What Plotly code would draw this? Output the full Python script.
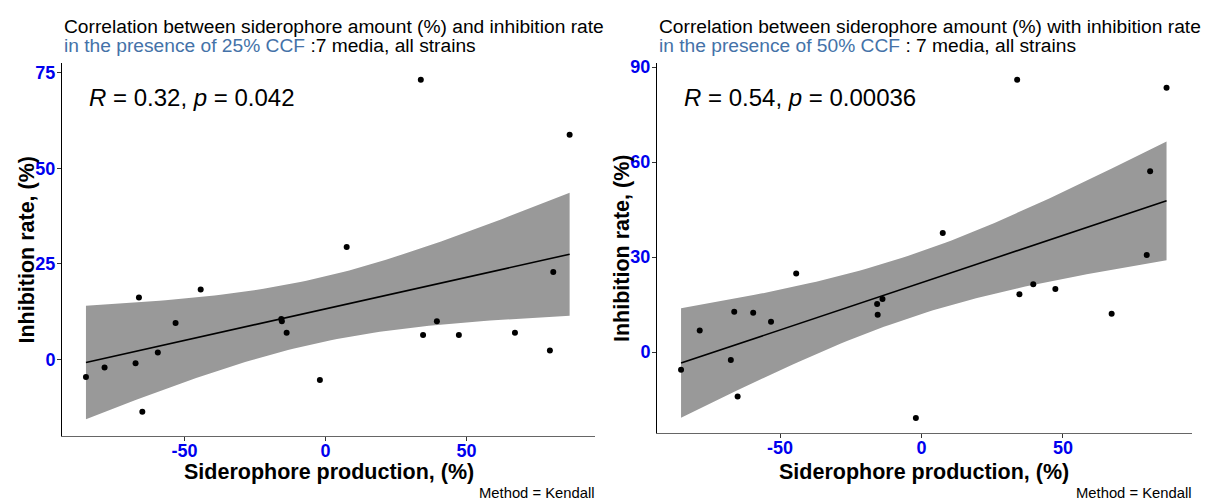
import numpy as np
import plotly.graph_objects as go

# ---- data ----
siderophore = [-85.0, -78.4, -67.4, -66.2, -65.0, -59.5, -53.2, -44.3, -15.7, -15.5,
               -13.8, -2.0, 7.5, 33.8, 34.6, 39.5, 47.3, 67.2, 79.6, 80.8, 86.6]
inhib_25 = [-4.6, -2.1, -1.0, 16.2, -13.7, 1.8, 9.5, 18.3, 10.6, 10.0,
            7.0, -5.4, 29.4, 73.2, 6.4, 10.0, 6.4, 7.0, 2.3, 22.9, 58.8]
inhib_50 = [-5.6, 6.8, -2.5, 12.7, -14.0, 12.4, 9.6, 24.8, 15.2, 11.8,
            16.8, -20.8, 37.6, 86.0, 18.3, 21.4, 19.9, 12.1, 30.7, 57.1, 83.5]

panels = [
    dict(y=inhib_25, r="0.32", p="0.042", pct="25%", sep=" :7 media, all strains",
         head="Correlation between siderophore amount (%) and inhibition rate",
         yticks=[0, 25, 50, 75], yrange=[-20.0, 77.5]),
    dict(y=inhib_50, r="0.54", p="0.00036", pct="50%", sep=" : 7 media, all strains",
         head="Correlation between siderophore amount (%) with inhibition rate",
         yticks=[0, 30, 60, 90], yrange=[-25.5, 91.2]),
]
xticks = [-50, 0, 50]
xticklabels = ["-50", "0", "50"]
T_CRIT = 2.093  # qt(0.975, 19)

W, H = 1205, 501
xdoms = [[62 / W, 595 / W], [657 / W, 1192 / W]]
ydoms = [[1 - 435 / H, 1 - 58 / H], [1 - 432 / H, 1 - 58 / H]]

fig = go.Figure()
FONT = "Liberation Sans, Arial, sans-serif"
BLUE_TICK = "#0000EE"
TITLE_BLUE = "#4472A8"

for i, p in enumerate(panels):
    xa = "x" if i == 0 else "x2"
    ya = "y" if i == 0 else "y2"
    x = np.array(siderophore)
    y = np.array(p["y"])
    n = len(x)
    b1, b0 = np.polyfit(x, y, 1)
    resid = y - (b0 + b1 * x)
    s = np.sqrt(np.sum(resid ** 2) / (n - 2))
    xs = np.linspace(x.min(), x.max(), 80)
    fit = b0 + b1 * xs
    se = s * np.sqrt(1 / n + (xs - x.mean()) ** 2 / np.sum((x - x.mean()) ** 2))
    lo = fit - T_CRIT * se
    hi = fit + T_CRIT * se

    fig.add_trace(go.Scatter(x=np.concatenate([xs, xs[::-1]]), y=np.concatenate([hi, lo[::-1]]),
                             fill="toself", fillcolor="#999999", line=dict(width=0),
                             mode="lines", hoverinfo="skip", showlegend=False, xaxis=xa, yaxis=ya))
    fig.add_trace(go.Scatter(x=xs, y=fit, mode="lines", line=dict(color="black", width=1.6),
                             showlegend=False, xaxis=xa, yaxis=ya))
    fig.add_trace(go.Scatter(x=x, y=y, mode="markers", marker=dict(color="black", size=6),
                             showlegend=False, xaxis=xa, yaxis=ya))

    axsuf = "" if i == 0 else "2"
    common = dict(showgrid=False, zeroline=False, showline=True, linewidth=1,
                  ticks="outside", ticklen=4, tickcolor="#333333",
                  tickfont=dict(family=FONT, size=18, color=BLUE_TICK, weight="bold"))
    fig.update_layout(**{
        "xaxis" + axsuf: dict(domain=xdoms[i], range=[-93.5, 95.6], tickvals=xticks,
                              ticktext=xticklabels, ticklabelstandoff=-5,
                              anchor=ya, linecolor="#666666", **common),
        "yaxis" + axsuf: dict(domain=ydoms[i], range=p["yrange"], tickvals=p["yticks"],
                              ticklabelstandoff=-2,
                              anchor=xa, linecolor="black", **common),
    })

    x0, x1 = xdoms[i]
    y0, y1 = ydoms[i]
    # R / p label
    fig.add_annotation(xref="paper", yref="paper", x=x0 + 25 / W, y=1 - 93 / H,
                       xanchor="left", yanchor="middle", showarrow=False,
                       text="<i>R</i> = " + p["r"] + ", <i>p</i> = " + p["p"],
                       font=dict(family=FONT, size=24, color="black"))
    # title (two lines)
    fig.add_annotation(xref="paper", yref="paper", x=x0 + 0 / W, y=1 - 21 / H,
                       xanchor="left", yanchor="middle", showarrow=False,
                       text=p["head"], font=dict(family=FONT, size=19.2, color="black"))
    fig.add_annotation(xref="paper", yref="paper", x=x0 + 0 / W, y=1 - 40 / H,
                       xanchor="left", yanchor="middle", showarrow=False,
                       text="<span style='color:" + TITLE_BLUE + "'>in the presence of "
                            + p["pct"] + " CCF</span>" + p["sep"],
                       font=dict(family=FONT, size=19.2, color="black"))
    # axis titles
    fig.add_annotation(xref="paper", yref="paper", x=(x0 + x1) / 2, y=1 - 472 / H,
                       xanchor="center", yanchor="middle", showarrow=False,
                       text="<b>Siderophore production, (%)</b>",
                       font=dict(family=FONT, size=21.5, color="black"))
    fig.add_annotation(xref="paper", yref="paper", x=x0 - 35 / W, y=(y0 + y1) / 2,
                       xanchor="center", yanchor="middle", showarrow=False, textangle=-90,
                       text="<b>Inhibition rate, (%)</b>",
                       font=dict(family=FONT, size=21.5, color="black"))
    fig.add_annotation(xref="paper", yref="paper", x=x1 + 2 / W, y=1 - 493 / H,
                       xanchor="right", yanchor="middle", showarrow=False,
                       text="Method = Kendall",
                       font=dict(family=FONT, size=14.8, color="black"))

fig.update_layout(width=W, height=H, margin=dict(l=0, r=0, t=0, b=0),
                  paper_bgcolor="white", plot_bgcolor="white", showlegend=False)
fig.write_html("out.html")
